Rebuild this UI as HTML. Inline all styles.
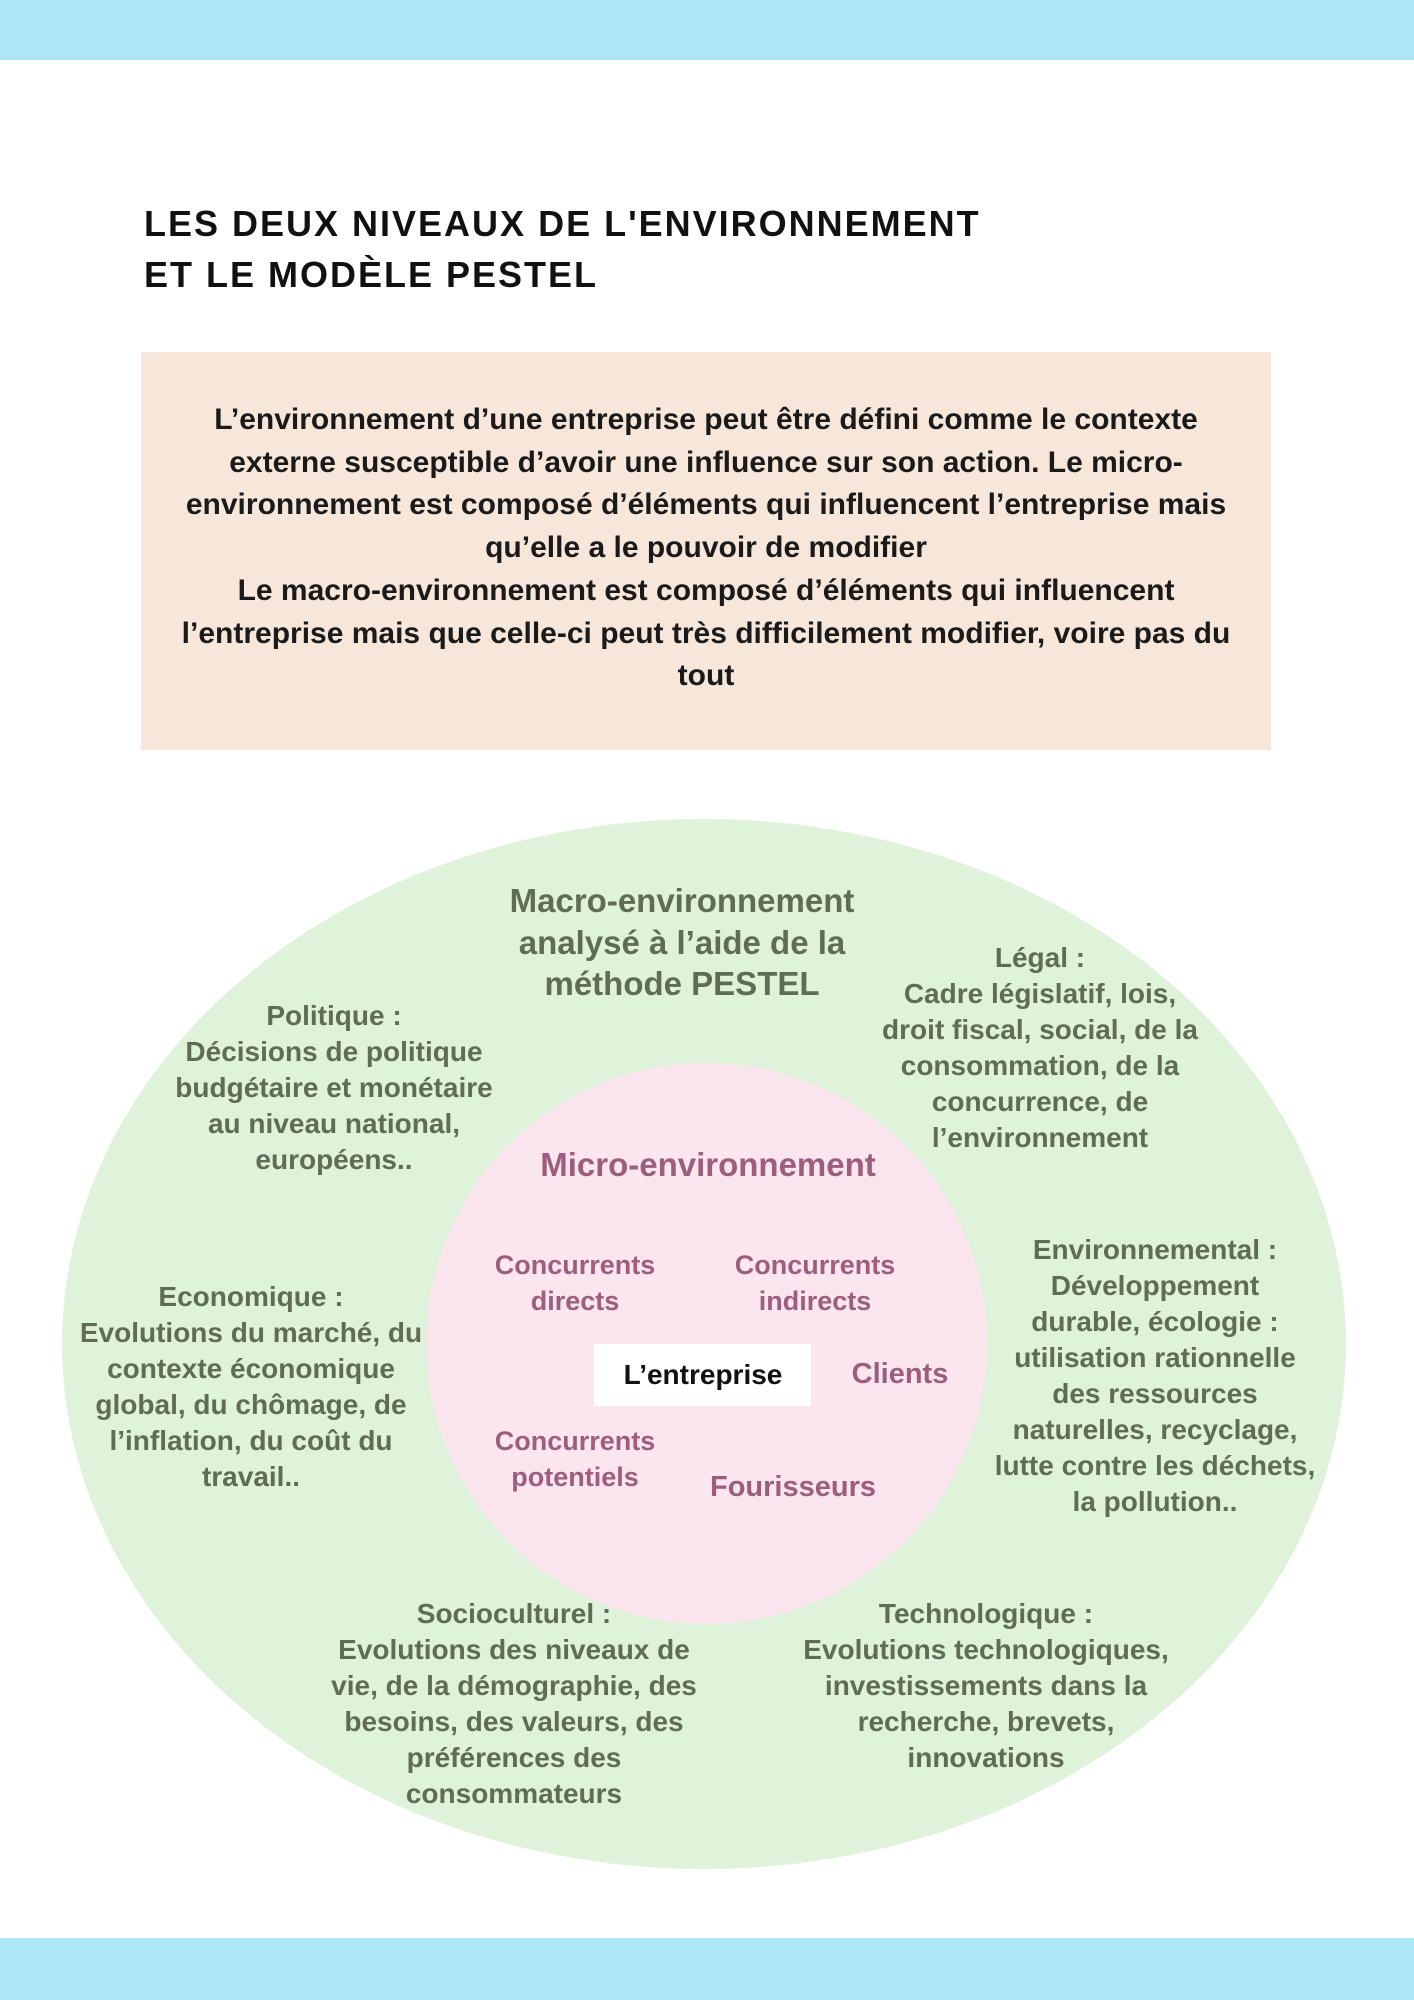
<!DOCTYPE html>
<html><head><meta charset="utf-8"><style>
body{margin:0;width:1414px;height:2000px;position:relative;background:#fff;font-family:"Liberation Sans",sans-serif;overflow:hidden}
.a{position:absolute;transform:translateX(-50%);text-align:center;white-space:nowrap;font-weight:bold}
.g{color:#5f6d54;font-size:28px;line-height:36px}
.p{color:#9d5d7d;font-size:27px;line-height:36px}
</style></head><body>
<div style="position:absolute;left:0;top:0;width:1414px;height:60px;background:#ade7f6"></div>
<div style="position:absolute;left:0;top:1938px;width:1414px;height:62px;background:#ade7f6"></div>
<div style="position:absolute;left:144px;top:198px;font-size:36px;line-height:51px;font-weight:bold;color:#111;letter-spacing:2px">LES DEUX NIVEAUX DE L'ENVIRONNEMENT<br>ET LE MODÈLE PESTEL</div>
<div style="position:absolute;left:141px;top:352px;width:1130px;height:398px;background:#f7e6da"></div>
<div class="a" style="left:706px;top:399px;font-size:30px;line-height:42.7px;color:#1a1a1a">L’environnement d’une entreprise peut être défini comme le contexte<br>externe susceptible d’avoir une influence sur son action. Le micro-<br>environnement est composé d’éléments qui influencent l’entreprise mais<br>qu’elle a le pouvoir de modifier<br>Le macro-environnement est composé d’éléments qui influencent<br>l’entreprise mais que celle-ci peut très difficilement modifier, voire pas du<br>tout</div>
<div style="position:absolute;left:62px;top:819px;width:1284px;height:1050px;border-radius:50%;background:#dff2da"></div>
<div style="position:absolute;left:426px;top:1063px;width:561px;height:561px;border-radius:50%;background:#fbe6ef"></div>
<div style="position:absolute;left:594px;top:1344px;width:217px;height:62px;background:#fff"></div>
<div class="a" style="left:703px;top:1359px;font-size:28px;line-height:32px;color:#111">L’entreprise</div>
<div class="a g" style="left:682px;top:880px;font-size:33px;line-height:41.5px">Macro-environnement<br>analysé à l’aide de la<br>méthode PESTEL</div>
<div class="a g" style="left:1040px;top:940px">Légal :<br>Cadre législatif, lois,<br>droit fiscal, social, de la<br>consommation, de la<br>concurrence, de<br>l’environnement</div>
<div class="a g" style="left:334px;top:998px">Politique :<br>Décisions de politique<br>budgétaire et monétaire<br>au niveau national,<br>européens..</div>
<div class="a g" style="left:251px;top:1279px">Economique :<br>Evolutions du marché, du<br>contexte économique<br>global, du chômage, de<br>l’inflation, du coût du<br>travail..</div>
<div class="a g" style="left:1155px;top:1232px">Environnemental :<br>Développement<br>durable, écologie :<br>utilisation rationnelle<br>des ressources<br>naturelles, recyclage,<br>lutte contre les déchets,<br>la pollution..</div>
<div class="a g" style="left:514px;top:1596px">Socioculturel :<br>Evolutions des niveaux de<br>vie, de la démographie, des<br>besoins, des valeurs, des<br>préférences des<br>consommateurs</div>
<div class="a g" style="left:986px;top:1596px">Technologique :<br>Evolutions technologiques,<br>investissements dans la<br>recherche, brevets,<br>innovations</div>
<div class="a p" style="left:708px;top:1147px;font-size:33px">Micro-environnement</div>
<div class="a p" style="left:575px;top:1247px">Concurrents<br>directs</div>
<div class="a p" style="left:815px;top:1247px">Concurrents<br>indirects</div>
<div class="a p" style="left:900px;top:1356px;font-size:29px">Clients</div>
<div class="a p" style="left:575px;top:1423px">Concurrents<br>potentiels</div>
<div class="a p" style="left:793px;top:1469px;font-size:29px">Fourisseurs</div>
</body></html>
